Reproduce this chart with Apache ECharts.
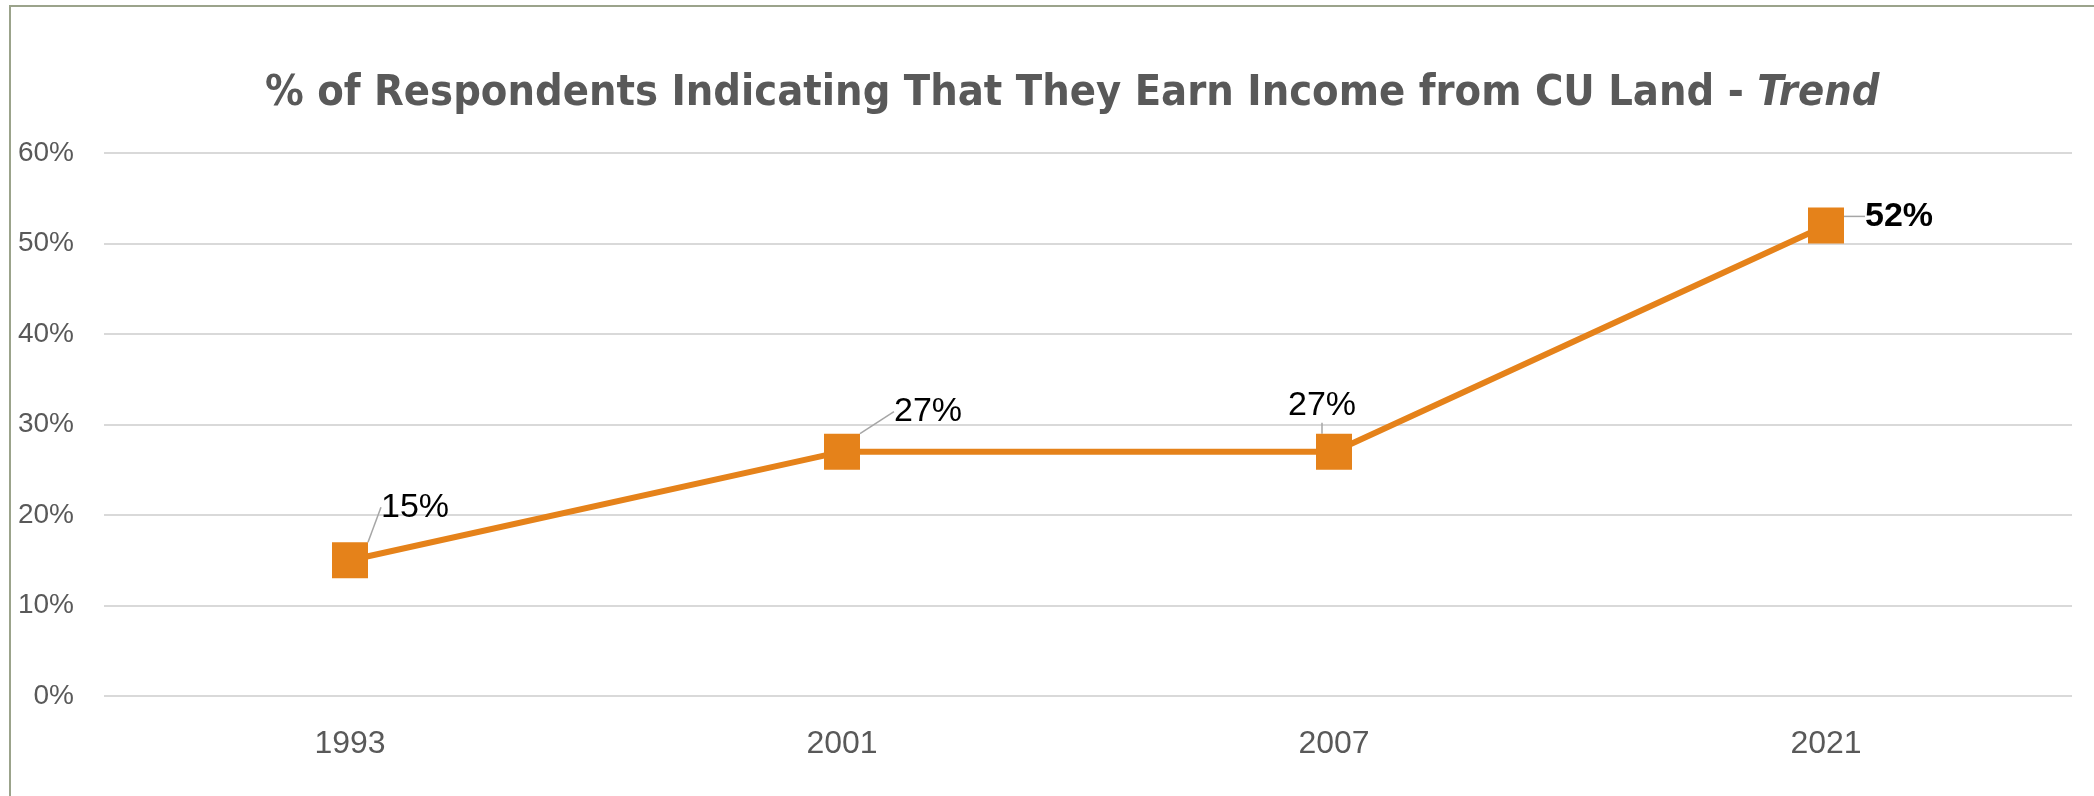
<!DOCTYPE html>
<html>
<head>
<meta charset="utf-8">
<script src="https://cdn.jsdelivr.net/npm/echarts@6/dist/echarts.min.js"></script>
<style>
  html, body { margin: 0; padding: 0; background: #fff; }
  #chart { width: 2094px; height: 796px; }
</style>
</head>
<body>
<div id="chart"></div>
<script>
// survey years and share of respondents (%)
const years = ['1993', '2001', '2007', '2021']
const shares = [15, 27, 27, 52]
const yTicks = { min: 0, max: 60, interval: 10 }

const titleText = '% of Respondents Indicating That They Earn Income from CU Land - '
const titleItalic = 'Trend'

// label nudges (px) from each point, like the hand-placed Excel labels
const labelShift = [[65, -53], [86, -40], [-12, -46], [73, -9]]

const orange = '#e5821a'
const grey = '#595959'

const myChart = echarts.init(document.getElementById('chart'))

myChart.setOption({
  backgroundColor: '#fff',
  animation: false,
  title: {
    text: '{a|' + titleText + '}{b|' + titleItalic + '}',
    left: 260,
    top: 67,
    textStyle: {
      rich: {
        a: { fontFamily: 'DejaVu Sans Condensed, sans-serif', fontWeight: 'bold', fontSize: 43, color: grey },
        b: { fontFamily: 'DejaVu Sans Condensed, sans-serif', fontWeight: 'bold', fontStyle: 'italic', fontSize: 43, color: grey }
      }
    }
  },
  graphic: [{
    type: 'rect',
    shape: { x: 10, y: 6, width: 2300, height: 1000 },
    style: { fill: 'none', stroke: '#9ba38b', lineWidth: 2 },
    silent: true
  }],
  grid: { left: 104, right: 22, top: 153, bottom: 100, containLabel: false },
  xAxis: {
    type: 'category',
    data: years,
    boundaryGap: true,
    axisLine: { show: false },
    axisTick: { show: false },
    axisLabel: {
      margin: 32,
      fontFamily: 'Liberation Sans, Arial, sans-serif',
      fontSize: 32,
      color: grey
    }
  },
  yAxis: {
    type: 'value',
    min: yTicks.min,
    max: yTicks.max,
    interval: yTicks.interval,
    axisLine: { show: false },
    axisTick: { show: false },
    splitLine: { lineStyle: { color: '#d9d9d9', width: 2 } },
    axisLabel: {
      margin: 30,
      formatter: '{value}%',
      fontFamily: 'Liberation Sans, Arial, sans-serif',
      fontSize: 28,
      color: grey
    }
  },
  series: [{
    type: 'line',
    data: shares.map((v, i) => i === shares.length - 1
      ? { value: v, label: { fontWeight: 'bold' } }
      : v),
    symbol: 'rect',
    symbolSize: 36,
    itemStyle: { color: orange },
    lineStyle: { color: orange, width: 6 },
    label: {
      show: true,
      position: 'inside',
      formatter: '{c}%',
      fontFamily: 'Liberation Sans, Arial, sans-serif',
      fontSize: 34,
      color: '#000'
    },
    labelLine: {
      show: true,
      lineStyle: { color: '#a6a6a6', width: 1.5 }
    },
    labelLayout: (params) => ({
      dx: labelShift[params.dataIndex][0],
      dy: labelShift[params.dataIndex][1]
    })
  }]
})
</script>
</body>
</html>
